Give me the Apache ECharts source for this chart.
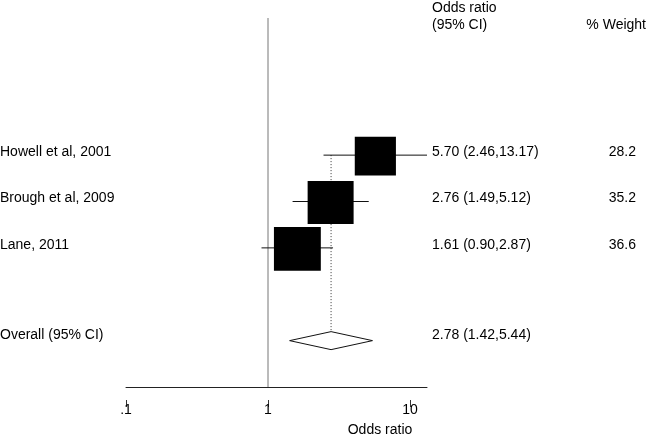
<!DOCTYPE html>
<html>
<head>
<meta charset="utf-8">
<script src="https://cdn.jsdelivr.net/npm/echarts@6/dist/echarts.min.js"></script>
<style>
  html, body { margin: 0; padding: 0; background: #fff; }
  #chart { width: 648px; height: 436px; }
</style>
</head>
<body>
<div id="chart"></div>
<script>
// study rows
const studies = ['Howell et al, 2001', 'Brough et al, 2009', 'Lane, 2011'];
const studyRows = [0, 1, 2];
const oddsRatios = [5.70, 2.76, 1.61];
const ciLow = [2.46, 1.49, 0.90];
const ciHigh = [13.17, 5.12, 2.87];
const weights = [28.2, 35.2, 36.6];

// pooled estimate
const overallLabel = 'Overall (95% CI)';
const overallRow = 4;
const overallOR = 2.78;
const overallLow = 1.42;
const overallHigh = 5.44;

// axis
const xMin = 0.1;
const xMax = 13.17;
const xTickLabels = { '-1': '.1', '0': '1', '1': '10' };
const headerOR = ['Odds ratio', '(95% CI)'];
const headerWeight = '% Weight';
const xAxisTitle = 'Odds ratio';

const FONT = '14px "Liberation Sans", Arial, sans-serif';
const fmt = (v) => v.toFixed(2);

const chart = echarts.init(document.getElementById('chart'), null, { renderer: 'canvas' });

const studyData = studies.map((s, i) => [oddsRatios[i], studyRows[i], ciLow[i], ciHigh[i], weights[i]]);

const tickLabel = (v) => {
  const l = Math.log10(v);
  if (Math.abs(l - Math.round(l)) > 1e-6) return '';
  return xTickLabels[String(Math.round(l))] || '';
};

const option = {
  animation: false,
  backgroundColor: '#fff',
  grid: { left: 126, right: 221, top: 16, bottom: 49 },
  xAxis: [
    {
      type: 'log',
      logBase: 10,
      min: xMin,
      max: xMax,
      axisLine: { show: true, onZero: false, lineStyle: { color: '#222', width: 1 } },
      axisTick: { show: false },
      axisLabel: { show: false },
      splitLine: { show: false },
    },
    {
      type: 'log',
      logBase: 10,
      min: xMin,
      max: xMax,
      position: 'bottom',
      offset: 13,
      axisLine: { show: false, onZero: false },
      axisTick: { show: true, length: 7, lineStyle: { color: '#333', width: 1 } },
      axisLabel: {
        margin: 3,
        color: '#000',
        fontSize: 14,
        fontFamily: '"Liberation Sans", Arial, sans-serif',
        showMaxLabel: false,
        formatter: tickLabel,
      },
      splitLine: { show: false },
    },
  ],
  yAxis: {
    type: 'value',
    min: -3,
    max: 5,
    inverse: true,
    show: false,
  },
  graphic: [
    { type: 'text', left: 432, top: 1, style: { text: headerOR[0], font: FONT, fill: '#000' } },
    { type: 'text', left: 432, top: 18, style: { text: headerOR[1], font: FONT, fill: '#000' } },
    { type: 'text', right: 2, top: 18, style: { text: headerWeight, font: FONT, fill: '#000' } },
    { type: 'text', x: 380, y: 430, style: { text: xAxisTitle, font: FONT, fill: '#000', align: 'center', verticalAlign: 'middle' } },
  ],
  series: [
    {
      // null line at OR = 1
      type: 'custom',
      clip: false,
      data: [[1, -3, 5]],
      renderItem: (params, api) => {
        const top = api.coord([api.value(0), api.value(1)]);
        const bot = api.coord([api.value(0), api.value(2)]);
        return {
          type: 'line',
          shape: { x1: top[0], y1: top[1] + 2, x2: bot[0], y2: bot[1] },
          style: { stroke: '#777', lineWidth: 1 },
        };
      },
    },
    {
      // dotted line at pooled estimate
      type: 'custom',
      clip: false,
      data: [[overallOR, studyRows[0], overallRow]],
      renderItem: (params, api) => {
        const top = api.coord([api.value(0), api.value(1)]);
        const bot = api.coord([api.value(0), api.value(2)]);
        return {
          type: 'line',
          shape: { x1: top[0], y1: top[1], x2: bot[0], y2: bot[1] - 9 },
          style: { stroke: '#333', lineWidth: 1, lineDash: [1, 2] },
        };
      },
    },
    {
      // CI lines and weighted boxes
      type: 'custom',
      clip: false,
      data: studyData,
      renderItem: (params, api) => {
        const c = api.coord([api.value(0), api.value(1)]);
        const lo = api.coord([api.value(2), api.value(1)]);
        const hi = api.coord([api.value(3), api.value(1)]);
        const w = 7.75 * Math.sqrt(api.value(4));
        const h = 7.25 * Math.sqrt(api.value(4));
        return {
          type: 'group',
          children: [
            {
              type: 'line',
              shape: { x1: lo[0], y1: c[1], x2: hi[0], y2: c[1] },
              style: { stroke: '#111', lineWidth: 1 },
            },
            {
              type: 'rect',
              shape: { x: c[0] - w / 2, y: c[1] - h / 2 + 1, width: w, height: h },
              style: { fill: '#000' },
            },
          ],
        };
      },
    },
    {
      // pooled diamond
      type: 'custom',
      clip: false,
      data: [[overallOR, overallRow, overallLow, overallHigh]],
      renderItem: (params, api) => {
        const c = api.coord([api.value(0), api.value(1)]);
        const lo = api.coord([api.value(2), api.value(1)]);
        const hi = api.coord([api.value(3), api.value(1)]);
        return {
          type: 'polygon',
          shape: { points: [[lo[0], c[1]], [c[0], c[1] - 9], [hi[0], c[1]], [c[0], c[1] + 9]] },
          style: { fill: '#fff', stroke: '#111', lineWidth: 1 },
        };
      },
    },
    {
      // text columns
      type: 'custom',
      clip: false,
      data: studies.map((s, i) => [studyRows[i], s, `${fmt(oddsRatios[i])} (${fmt(ciLow[i])},${fmt(ciHigh[i])})`, weights[i].toFixed(1)])
        .concat([[overallRow, overallLabel, `${fmt(overallOR)} (${fmt(overallLow)},${fmt(overallHigh)})`, '']]),
      encode: { y: 0 },
      renderItem: (params, api) => {
        const d = params.dataIndex;
        const row = api.value(0);
        const y = api.coord([1, row])[1] - (row === overallRow ? 5 : 3);
        const item = option.series[4].data[d];
        const base = { font: FONT, fill: '#000', verticalAlign: 'middle' };
        return {
          type: 'group',
          children: [
            { type: 'text', x: 0, y: y, style: Object.assign({ text: item[1], align: 'left' }, base) },
            { type: 'text', x: 432, y: y, style: Object.assign({ text: item[2], align: 'left' }, base) },
            { type: 'text', x: 636, y: y, style: Object.assign({ text: item[3], align: 'right' }, base) },
          ],
        };
      },
    },
  ],
};

chart.setOption(option);
</script>
</body>
</html>
